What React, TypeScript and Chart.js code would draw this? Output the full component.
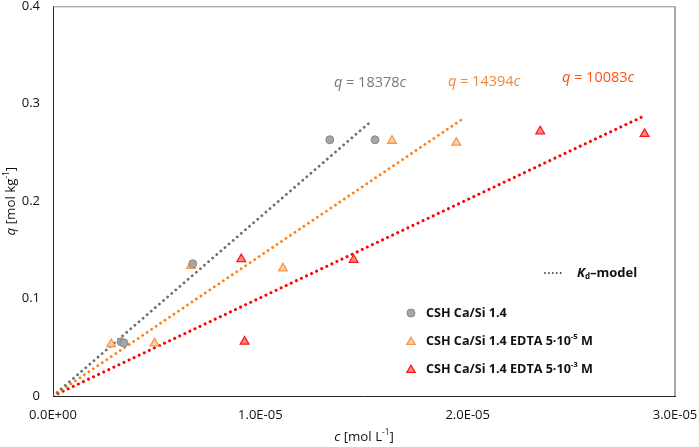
import React, { useEffect, useRef } from "react";
import { Chart, registerables } from "chart.js";

Chart.register(...registerables);

// ---- data ----
const cshC = [3.28e-6, 3.42e-6, 6.74e-6, 13.35e-6, 15.53e-6];
const cshQ = [0.0556, 0.0545, 0.1357, 0.263, 0.263];

const edta5C = [2.81e-6, 4.9e-6, 6.66e-6, 11.09e-6, 16.35e-6, 19.45e-6];
const edta5Q = [0.0534, 0.054, 0.1336, 0.131, 0.262, 0.26];

const edta3C = [9.08e-6, 9.24e-6, 14.5e-6, 23.5e-6, 28.53e-6];
const edta3Q = [0.1405, 0.0558, 0.1398, 0.2717, 0.269];

// Kd-model lines (start, end)
const fitCshC = [0, 15.38e-6];
const fitCshQ = [0, 0.2827];
const fitEdta5C = [0, 19.8e-6];
const fitEdta5Q = [0, 0.285];
const fitEdta3C = [0, 28.48e-6];
const fitEdta3Q = [0, 0.2872];

const fitLabels = ["18378", "14394", "10083"];
const legendLabels = ["CSH Ca/Si 1.4", "CSH Ca/Si 1.4 EDTA 5·10", "CSH Ca/Si 1.4 EDTA 5·10"];
const legendExps = ["", "-5", "-3"];

const xTicks = [0, 1e-5, 2e-5, 3e-5];
const yTicks = [0, 0.1, 0.2, 0.3, 0.4];

const FONT = '"Open Sans", sans-serif';

const toPts = (xs: number[], ys: number[]) => xs.map((x, i) => ({ x, y: ys[i] }));

const fmtExp = (v: number) => {
  if (Math.abs(v) < 1e-12) return "0.0E+00";
  const s = v.toExponential(1);
  const [m, e] = s.split("e");
  const n = parseInt(e, 10);
  const sign = n < 0 ? "-" : "+";
  const a = Math.abs(n);
  return m + "E" + sign + (a < 10 ? "0" + a : "" + a);
};

type Seg = { t: string; it?: boolean; b?: boolean; sup?: boolean; sub?: boolean };

function drawRich(ctx: CanvasRenderingContext2D, segs: Seg[], x: number, y: number, size: number, color: string, align: "left" | "center" = "left") {
  const fontFor = (s: Seg) => {
    const sz = s.sup || s.sub ? size * 0.62 : size;
    return `${s.it ? "italic " : ""}${s.b ? "bold " : ""}${sz}px ${FONT}`;
  };
  let total = 0;
  for (const s of segs) {
    ctx.font = fontFor(s);
    total += ctx.measureText(s.t).width;
  }
  let cx = align === "center" ? x - total / 2 : x;
  ctx.fillStyle = color;
  ctx.textBaseline = "middle";
  ctx.textAlign = "left";
  for (const s of segs) {
    ctx.font = fontFor(s);
    const dy = s.sup ? -size * 0.32 : s.sub ? size * 0.3 : 0;
    ctx.fillText(s.t, cx, y + dy);
    cx += ctx.measureText(s.t).width;
  }
}

const decorPlugin = {
  id: "decor",
  afterDatasetsDraw(chart: any) {
    const ctx: CanvasRenderingContext2D = chart.ctx;
    const a = chart.chartArea;
    ctx.save();
    // frame top and right
    ctx.strokeStyle = "#8c8c8c";
    ctx.lineWidth = 1;
    ctx.beginPath();
    ctx.moveTo(a.left, a.top + 0.5);
    ctx.lineTo(a.right, a.top + 0.5);
    ctx.stroke();
    ctx.strokeStyle = "#a8a8a8";
    ctx.lineWidth = 2;
    ctx.beginPath();
    ctx.moveTo(a.right, a.top);
    ctx.lineTo(a.right, a.bottom);
    ctx.stroke();

    // fit equations
    const cols = ["#7a7a7a", "#f4883a", "#ff5214"];
    const pos = [
      [370, 83],
      [484, 82],
      [598, 78],
    ];
    fitLabels.forEach((k, i) => {
      drawRich(
        ctx,
        [{ t: "q", it: true }, { t: " = " + k }, { t: "c", it: true }],
        pos[i][0],
        pos[i][1],
        14.5,
        cols[i],
        "center"
      );
    });

    // legend: Kd-model
    ctx.fillStyle = "#404040";
    for (let i = 0; i < 5; i++) {
      ctx.beginPath();
      ctx.arc(545 + i * 3.9, 273, 0.9, 0, Math.PI * 2);
      ctx.fill();
    }
    drawRich(
      ctx,
      [{ t: "K", it: true, b: true }, { t: "d", sub: true, b: true }, { t: "–model", b: true }],
      577,
      273,
      13,
      "#111111"
    );

    // legend: series
    const ly = [313, 341, 369];
    const lx = 411;
    ctx.fillStyle = "#a5a5a5";
    ctx.strokeStyle = "#8a8a8a";
    ctx.lineWidth = 1;
    ctx.beginPath();
    ctx.arc(lx, ly[0], 4, 0, Math.PI * 2);
    ctx.fill();
    ctx.stroke();
    const tri = (cy: number, fill: string, stroke: string) => {
      const r = 4.8;
      ctx.fillStyle = fill;
      ctx.strokeStyle = stroke;
      ctx.lineWidth = 1.3;
      ctx.beginPath();
      ctx.moveTo(lx, cy - r);
      ctx.lineTo(lx + r * 0.866, cy + r * 0.5);
      ctx.lineTo(lx - r * 0.866, cy + r * 0.5);
      ctx.closePath();
      ctx.fill();
      ctx.stroke();
    };
    tri(ly[1] + 1, "#fbd0b0", "#f79646");
    tri(ly[2] + 1, "#ff8a80", "#ff1a1a");
    legendLabels.forEach((t, i) => {
      const segs: Seg[] = [{ t, b: true }];
      if (legendExps[i]) {
        segs.push({ t: legendExps[i], b: true, sup: true });
        segs.push({ t: " M", b: true });
      }
      drawRich(ctx, segs, 426, ly[i], 12.6, "#111111");
    });

    // axis titles
    drawRich(
      ctx,
      [{ t: "c", it: true }, { t: " [mol L" }, { t: "-1", sup: true }, { t: "]" }],
      (a.left + a.right) / 2,
      437,
      13.3,
      "#111111",
      "center"
    );
    ctx.save();
    ctx.translate(11, (a.top + a.bottom) / 2);
    ctx.rotate(-Math.PI / 2);
    drawRich(
      ctx,
      [{ t: "q", it: true }, { t: " [mol kg" }, { t: "-1", sup: true }, { t: "]" }],
      0,
      0,
      13.3,
      "#111111",
      "center"
    );
    ctx.restore();
    ctx.restore();
  },
};

export default function App() {
  const ref = useRef<HTMLCanvasElement>(null);
  useEffect(() => {
    document.body.style.margin = "0";
    const canvas = ref.current;
    if (!canvas) return;
    const lineDs = (xs: number[], ys: number[], color: string, w: number, gap: number) => ({
      type: "line" as const,
      data: toPts(xs, ys),
      borderColor: color,
      borderWidth: w,
      borderDash: [0.01, gap],
      borderCapStyle: "round" as const,
      pointRadius: 0,
      showLine: true,
      fill: false,
      order: 2,
    });
    const chart = new Chart(canvas, {
      type: "scatter",
      data: {
        datasets: [
          lineDs(fitCshC, fitCshQ, "#6e6e6e", 2.8, 5.4),
          lineDs(fitEdta5C, fitEdta5Q, "#ff7f10", 2.8, 5.4),
          lineDs(fitEdta3C, fitEdta3Q, "#ff0000", 3, 5.6),
          {
            label: "CSH Ca/Si 1.4",
            data: toPts(cshC, cshQ),
            pointStyle: "circle",
            pointRadius: 4,
            backgroundColor: "#a5a5a5",
            borderColor: "#8a8a8a",
            borderWidth: 1,
            order: 1,
          },
          {
            label: "CSH Ca/Si 1.4 EDTA 5e-5 M",
            data: toPts(edta5C, edta5Q),
            pointStyle: "triangle",
            pointRadius: 5,
            backgroundColor: "#fbd0b0",
            borderColor: "#f79646",
            borderWidth: 1.3,
            order: 1,
          },
          {
            label: "CSH Ca/Si 1.4 EDTA 5e-3 M",
            data: toPts(edta3C, edta3Q),
            pointStyle: "triangle",
            pointRadius: 5,
            backgroundColor: "#ff8a80",
            borderColor: "#ff1a1a",
            borderWidth: 1.3,
            order: 1,
          },
        ] as any,
      },
      options: {
        animation: false,
        responsive: true,
        maintainAspectRatio: false,
        layout: { padding: { top: 6, right: 24, left: 0, bottom: 0 } },
        plugins: { legend: { display: false }, tooltip: { enabled: false } },
        scales: {
          x: {
            type: "linear",
            min: 0,
            max: 3e-5,
            afterBuildTicks: (s: any) => {
              s.ticks = xTicks.map((v) => ({ value: v }));
            },
            afterFit: (s: any) => {
              s.height = 51;
              s.paddingLeft = 0;
              s.paddingRight = 0;
            },
            grid: { display: false, drawTicks: false },
            border: { display: true, color: "#262626", width: 1 },
            ticks: {
              padding: 11,
              color: "#111111",
              font: { family: FONT, size: 13 },
              callback: (v: any) => fmtExp(Number(v)),
              maxRotation: 0,
              autoSkip: false,
            },
          },
          y: {
            type: "linear",
            min: 0,
            max: 0.4,
            afterBuildTicks: (s: any) => {
              s.ticks = yTicks.map((v) => ({ value: v }));
            },
            afterFit: (s: any) => {
              s.width = 53;
              s.paddingTop = 0;
              s.paddingBottom = 0;
            },
            grid: { display: false, drawTicks: false },
            border: { display: true, color: "#262626", width: 1 },
            ticks: {
              padding: 13,
              color: "#111111",
              font: { family: FONT, size: 13 },
              callback: (v: any) => {
                const n = Number(v);
                return n === 0 ? "0" : n.toFixed(1);
              },
            },
          },
        },
      } as any,
      plugins: [decorPlugin],
    });
    return () => chart.destroy();
  }, []);
  return (
    <div style={{ width: 699, height: 447, position: "relative", background: "#fff" }}>
      <canvas ref={ref} />
    </div>
  );
}
